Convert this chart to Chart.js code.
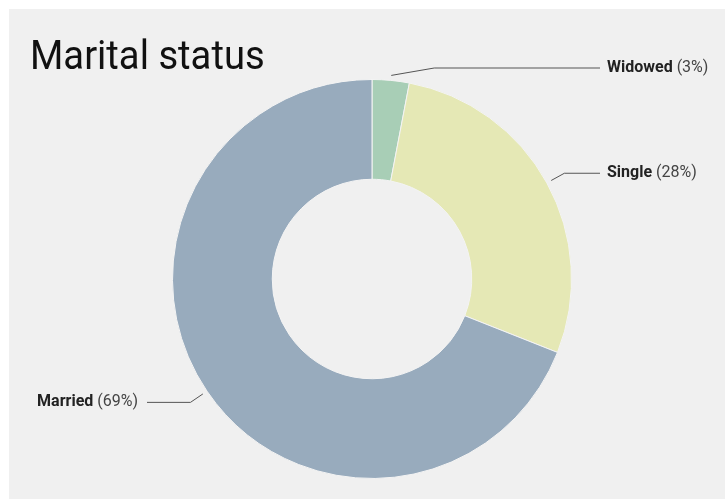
<html>
<head>
  <script src="https://cdn.jsdelivr.net/npm/chart.js"></script>
  <style>
    body { margin: 0; background: #ffffff; }
    #wrap { position: absolute; left: 0; top: 0; width: 725px; height: 499px; }
  </style>
</head>
<body>
  <div id="wrap"><canvas id="myChart" width="725" height="499"></canvas></div>
  <script>
    var labels = ['Widowed', 'Single', 'Married'];
    var shares = [3, 28, 69];
    var colors = ['#a8ceb6', '#e5e8b5', '#98abbd'];
    var title = 'Marital status';

    // background + title + leader labels
    var decor = {
      id: 'decor',
      beforeDraw: function (chart) {
        var ctx = chart.ctx;
        ctx.save();
        ctx.fillStyle = '#f0f0f0';
        ctx.fillRect(9, 9, chart.width - 9, chart.height - 9);
        ctx.restore();
      },
      afterDatasetsDraw: function (chart) {
        var ctx = chart.ctx;
        ctx.save();
        ctx.fillStyle = '#111';
        ctx.font = '40px Roboto';
        ctx.textBaseline = 'alphabetic';
        ctx.save();
        ctx.translate(30, 69);
        ctx.scale(0.955, 1);
        ctx.fillText(title, 0, 0);
        ctx.restore();

        var meta = chart.getDatasetMeta(0);
        meta.data.forEach(function (arc, i) {
          var p = arc.getProps(['x', 'y', 'startAngle', 'endAngle', 'outerRadius'], true);
          var mid = (p.startAngle + p.endAngle) / 2;
          var cos = Math.cos(mid), sin = Math.sin(mid);
          var sx = p.x + cos * (p.outerRadius + 5), sy = p.y + sin * (p.outerRadius + 5);
          var ex = p.x + cos * (p.outerRadius + 20), ey = p.y + sin * (p.outerRadius + 20);
          if (ey < 68) { ey = 68; ex = sx + 43; }
          var right = cos >= 0;
          var lx = right ? 600 : 147;
          ctx.strokeStyle = '#555';
          ctx.lineWidth = 1;
          ctx.beginPath();
          ctx.moveTo(sx, sy);
          ctx.lineTo(ex, ey);
          ctx.lineTo(lx, ey);
          ctx.stroke();

          var name = labels[i], pct = ' (' + shares[i] + '%)';
          ctx.textBaseline = 'middle';
          ctx.font = 'bold 16px Roboto';
          var w1 = ctx.measureText(name).width;
          ctx.font = '16px Roboto';
          var w2 = ctx.measureText(pct).width;
          var tx = right ? 607 : 138 - w1 - w2;
          ctx.font = 'bold 16px Roboto';
          ctx.fillStyle = '#222';
          ctx.fillText(name, tx, ey);
          ctx.font = '16px Roboto';
          ctx.fillStyle = '#444';
          ctx.fillText(pct, tx + w1, ey);
        });
        ctx.restore();
      }
    };

    var ctx = document.getElementById('myChart').getContext('2d');
    var grafica = new Chart(ctx, {
      type: 'doughnut',
      data: {
        labels: labels,
        datasets: [{
          data: shares,
          backgroundColor: colors,
          borderColor: '#f4f4f4',
          borderWidth: 1,
          hoverOffset: 0,
          offset: 0
        }]
      },
      options: {
        responsive: false,
        animation: false,
        cutout: '50%',
        layout: { padding: { top: 79, bottom: 20, left: 172, right: 153 } },
        plugins: {
          legend: { display: false },
          tooltip: { enabled: false }
        }
      },
      plugins: [decor]
    });
  </script>
</body>
</html>
